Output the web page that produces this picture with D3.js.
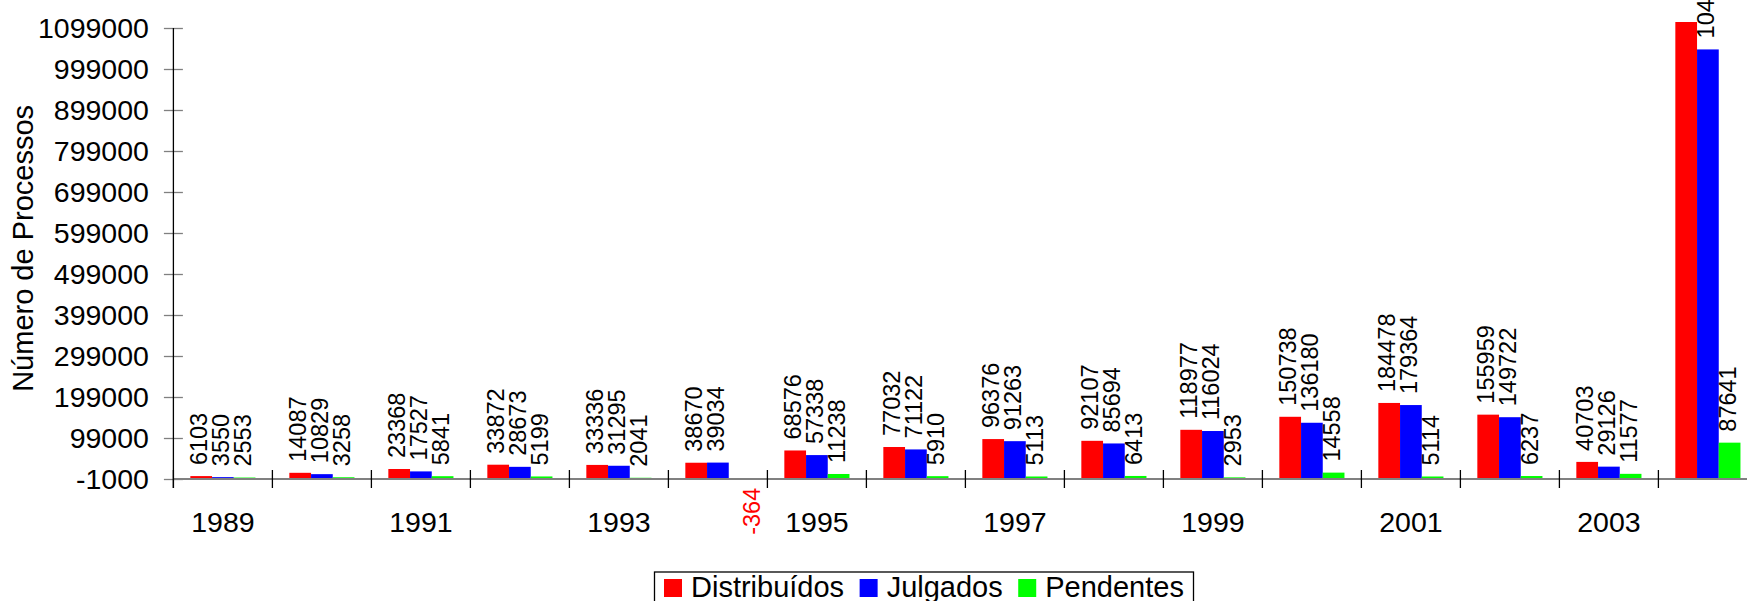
<!DOCTYPE html>
<html>
<head>
<meta charset="utf-8">
<script src="https://cdn.jsdelivr.net/npm/d3@7"></script>
<style>
  body { margin: 0; background: #fff; }
  svg { display: block; font-family: "Liberation Sans", Arial, Helvetica, sans-serif; }
</style>
</head>
<body>
<svg id="chart" width="1747" height="601"></svg>
<script>
// categories (last one is the total column, its label is skipped like every other odd one)
const years = ["1989", "1990", "1991", "1992", "1993", "1994", "1995", "1996",
  "1997", "1998", "1999", "2000", "2001", "2002", "2003", "Total"];
const distribuidos = [6103, 14087, 23368, 33872, 33336, 38670, 68576, 77032,
  96376, 92107, 118977, 150738, 184478, 155959, 40703, 1134382];
const julgados = [3550, 10829, 17527, 28673, 31295, 39034, 57338, 71122,
  91263, 85694, 116024, 136180, 179364, 149722, 29126, 1046741];
const pendentes = [2553, 3258, 5841, 5199, 2041, -364, 11238, 5910,
  5113, 6413, 2953, 14558, 5114, 6237, 11577, 87641];
const seriesNames = ["Distribuídos", "Julgados", "Pendentes"];
const seriesColors = ["#ff0000", "#0000ff", "#00ff00"];
const yTicks = d3.range(-1000, 1099001, 100000);

const series = [distribuidos, julgados, pendentes];
const svg = d3.select("#chart");

const plotLeft = 173.4, plotBase = 479, plotTop = 28;
const x0 = d3.scaleBand().domain(years).range([plotLeft, plotLeft + 99 * years.length]);
const x1 = d3.scaleBand().domain(seriesNames).range([0, x0.bandwidth()]).paddingOuter(0.78);
const y = d3.scaleLinear().domain([-1000, 1099000]).range([plotBase, plotTop]);
const clipTop = plotTop - 6;

svg.append("defs").append("clipPath").attr("id", "plotclip")
  .append("rect")
  .attr("x", plotLeft).attr("y", clipTop)
  .attr("width", 2000).attr("height", plotBase - clipTop);

// bars
const rows = years.map((yr, i) => ({ yr, vals: series.map((s, k) => ({ name: seriesNames[k], k, v: s[i] })) }));

const groups = svg.append("g").attr("clip-path", "url(#plotclip)")
  .selectAll("g.cat").data(rows).join("g")
  .attr("class", "cat")
  .attr("transform", d => `translate(${x0(d.yr)},0)`);

groups.selectAll("rect").data(d => d.vals).join("rect")
  .attr("x", d => x1(d.name))
  .attr("width", x1.bandwidth())
  .attr("y", d => y(Math.max(d.v, -1000)))
  .attr("height", d => Math.abs(y(-1000) - y(d.v)))
  .attr("fill", d => seriesColors[d.k]);

// value labels, rotated; negatives go below the axis in red, clipped bars get none
const labels = svg.append("g");
rows.forEach(r => {
  r.vals.forEach(d => {
    if (y(d.v) < clipTop) return;
    const cx = x0(r.yr) + x1(d.name) + x1.bandwidth() / 2;
    const neg = d.v < 0;
    labels.append("text")
      .attr("transform", neg
        ? `translate(${cx + 20},${y(d.v) + 9}) rotate(-90)`
        : `translate(${cx + 6.2},${y(d.v) - 11}) rotate(-90)`)
      .attr("text-anchor", neg ? "end" : "start")
      .attr("font-size", "23.5px")
      .attr("fill", neg ? "#ff0000" : "#000")
      .text(d.v);
  });
});

// y axis
const yAxis = svg.append("g")
  .attr("transform", `translate(${plotLeft},0)`)
  .call(d3.axisLeft(y).tickValues(yTicks).tickFormat(d => String(d)).tickSize(9.5).tickPadding(15));
yAxis.select(".domain").remove();
yAxis.selectAll(".tick line").attr("x2", -9.5).attr("x1", 9.5).attr("stroke", "#808080").attr("stroke-width", 1.3);
yAxis.selectAll(".tick text").attr("font-size", "28.5px").attr("font-family", null).attr("fill", "#000");

// x axis line
svg.append("line")
  .attr("x1", plotLeft).attr("x2", x0.range()[1])
  .attr("y1", plotBase).attr("y2", plotBase)
  .attr("stroke", "#808080").attr("stroke-width", 2.2);

svg.append("line")
  .attr("x1", plotLeft).attr("x2", plotLeft)
  .attr("y1", plotTop).attr("y2", plotBase + 9)
  .attr("stroke", "#000").attr("stroke-width", 1.3);

// category boundary ticks
const bounds = years.map(yr => x0(yr)).concat([x0.range()[1]]);
svg.append("g").selectAll("line").data(bounds).join("line")
  .attr("x1", d => d).attr("x2", d => d)
  .attr("y1", plotBase - 9).attr("y2", plotBase + 9)
  .attr("stroke", "#000").attr("stroke-width", 1.3);

const xAxis = svg.append("g")
  .attr("transform", `translate(0,${plotBase})`)
  .call(d3.axisBottom(x0).tickSize(0).tickPadding(32.5)
    .tickFormat((d, i) => i % 2 === 0 ? d : ""));
xAxis.select(".domain").remove();
xAxis.selectAll(".tick text").attr("font-size", "28.5px").attr("font-family", null).attr("fill", "#000");

// y title
svg.append("text")
  .attr("transform", "translate(33.3,248.4) rotate(-90)")
  .attr("text-anchor", "middle")
  .attr("font-size", "29px")
  .text("Número de Processos");

// legend
const legend = svg.append("g");
const legX = 654.5, legY = 572;
legend.append("rect")
  .attr("x", legX).attr("y", legY)
  .attr("width", 539).attr("height", 60)
  .attr("fill", "#fff").attr("stroke", "#000").attr("stroke-width", 1.3);
let lx = legX + 9.5;
seriesNames.forEach((name, k) => {
  legend.append("rect")
    .attr("x", lx).attr("y", legY + 7)
    .attr("width", 18).attr("height", 18)
    .attr("fill", seriesColors[k]);
  const t = legend.append("text")
    .attr("x", lx + 27).attr("y", legY + 25)
    .attr("font-size", "29px")
    .text(name);
  lx += 27 + t.node().getComputedTextLength() + 15.5;
});
</script>
</body>
</html>
